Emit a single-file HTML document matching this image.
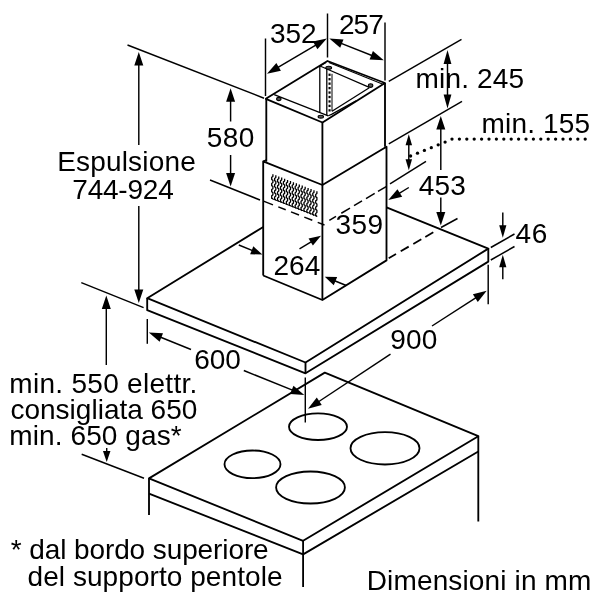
<!DOCTYPE html>
<html lang="it">
<head>
<meta charset="utf-8">
<title>Dimensioni in mm</title>
<style>
html,body{margin:0;padding:0;background:#fff;}
body{width:600px;height:600px;overflow:hidden;}
svg{display:block;will-change:transform;filter:grayscale(1);}
svg text{font-family:"Liberation Sans",Arial,Helvetica,sans-serif;fill:#000;stroke:none;}
</style>
</head>
<body>
<svg width="600" height="600" viewBox="0 0 600 600" stroke="#000" stroke-linecap="butt" stroke-linejoin="round" fill="none">
<rect x="0" y="0" width="600" height="600" fill="#fff" stroke="none"/>
<path d="M265.80 98.80 L327.50 61.00 L385.00 83.00 L322.50 122.50 Z" stroke-width="1.85" fill="none" />
<line x1="328.80" y1="62.60" x2="383.60" y2="84.60" stroke-width="1.1" />
<line x1="319.30" y1="66.60" x2="326.00" y2="62.50" stroke-width="1.1" />
<path d="M274.20 94.60 L328.30 115.80" stroke-width="1.3" fill="none" />
<path d="M320.00 66.00 L369.30 87.30" stroke-width="1.3" fill="none" />
<path d="M332.00 111.30 L369.30 87.80" stroke-width="1.3" fill="none" />
<path d="M328.30 115.80 L331.50 114.40 L356.00 100.90" stroke-width="1.2" fill="none" />
<line x1="319.80" y1="66.00" x2="319.80" y2="112.30" stroke-width="1.3" />
<line x1="326.80" y1="69.00" x2="326.80" y2="115.20" stroke-width="1.3" />
<line x1="332.00" y1="73.80" x2="332.00" y2="111.30" stroke-width="1.0" />
<rect x="328.5" y="73.60" width="2.1" height="2.3" fill="#000" stroke="none"/>
<rect x="328.5" y="78.05" width="2.1" height="2.3" fill="#000" stroke="none"/>
<rect x="328.5" y="82.50" width="2.1" height="2.3" fill="#000" stroke="none"/>
<rect x="328.5" y="86.95" width="2.1" height="2.3" fill="#000" stroke="none"/>
<rect x="328.5" y="91.40" width="2.1" height="2.3" fill="#000" stroke="none"/>
<rect x="328.5" y="95.85" width="2.1" height="2.3" fill="#000" stroke="none"/>
<rect x="328.5" y="100.30" width="2.1" height="2.3" fill="#000" stroke="none"/>
<rect x="328.5" y="104.75" width="2.1" height="2.3" fill="#000" stroke="none"/>
<rect x="328.5" y="109.20" width="2.1" height="2.3" fill="#000" stroke="none"/>
<ellipse cx="278.8" cy="99.0" rx="2.2" ry="1.6" fill="#555" stroke-width="1.1"/>
<ellipse cx="328.7" cy="67.8" rx="2.9" ry="1.5" fill="#555" stroke-width="1.1"/>
<ellipse cx="370.6" cy="85.6" rx="2.2" ry="1.8" fill="#555" stroke-width="1.1"/>
<ellipse cx="320.8" cy="116.7" rx="2.7" ry="1.4" fill="#555" stroke-width="1.1"/>
<line x1="266.30" y1="98.80" x2="266.30" y2="161.70" stroke-width="1.85" />
<line x1="322.40" y1="122.50" x2="322.40" y2="300.00" stroke-width="1.85" />
<line x1="385.00" y1="83.00" x2="385.00" y2="146.80" stroke-width="1.85" />
<path d="M263.20 275.50 L263.20 161.30 L322.40 185.00 L386.50 146.80 L386.50 260.40 L322.40 300.00 L263.20 275.50" stroke-width="1.85" fill="none" />
<line x1="263.20" y1="161.30" x2="266.30" y2="159.80" stroke-width="1.4" />
<line x1="263.50" y1="201.12" x2="273.00" y2="204.84" stroke-width="1.5" />
<line x1="278.30" y1="206.92" x2="285.70" y2="209.82" stroke-width="1.5" />
<line x1="291.00" y1="211.90" x2="299.00" y2="215.03" stroke-width="1.5" />
<line x1="304.30" y1="217.11" x2="312.30" y2="220.25" stroke-width="1.5" />
<line x1="317.70" y1="222.36" x2="324.50" y2="225.03" stroke-width="1.5" />
<line x1="329.30" y1="220.39" x2="336.00" y2="216.41" stroke-width="1.5" />
<line x1="341.30" y1="213.25" x2="350.00" y2="208.08" stroke-width="1.5" />
<line x1="354.00" y1="205.70" x2="362.00" y2="200.94" stroke-width="1.5" />
<line x1="366.00" y1="198.56" x2="374.70" y2="193.38" stroke-width="1.5" />
<line x1="378.00" y1="191.42" x2="386.60" y2="186.30" stroke-width="1.5" />
<line x1="388.70" y1="258.30" x2="396.00" y2="254.04" stroke-width="1.8" />
<line x1="400.70" y1="251.30" x2="408.70" y2="246.64" stroke-width="1.8" />
<line x1="413.30" y1="243.96" x2="421.30" y2="239.29" stroke-width="1.8" />
<line x1="425.30" y1="236.96" x2="433.30" y2="232.30" stroke-width="1.8" />
<path d="M272.90 174.20 L272.90 176.41 L271.70 177.27 L271.70 179.49 L272.90 180.35 L272.90 182.56 L271.70 183.43 L271.70 185.64 L272.90 186.50 L272.90 188.71 L271.70 189.57 L271.70 191.79 L272.90 192.65 L272.90 194.86 L271.70 195.73 L271.70 197.94 L272.90 198.80" stroke-width="1.3" fill="none" />
<path d="M275.83 175.34 L275.83 177.56 L274.63 178.42 L274.63 180.64 L275.83 181.50 L275.83 183.72 L274.63 184.58 L274.63 186.80 L275.83 187.66 L275.83 189.88 L274.63 190.74 L274.63 192.96 L275.83 193.83 L275.83 196.04 L274.63 196.91 L274.63 199.12 L275.83 199.99" stroke-width="1.3" fill="none" />
<path d="M278.77 176.48 L278.77 178.70 L277.57 179.57 L277.57 181.79 L278.77 182.65 L278.77 184.88 L277.57 185.74 L277.57 187.96 L278.77 188.83 L278.77 191.05 L277.57 191.91 L277.57 194.14 L278.77 195.00 L278.77 197.22 L277.57 198.09 L277.57 200.31 L278.77 201.17" stroke-width="1.3" fill="none" />
<path d="M281.70 177.62 L281.70 179.85 L280.50 180.71 L280.50 182.94 L281.70 183.81 L281.70 186.03 L280.50 186.90 L280.50 189.12 L281.70 189.99 L281.70 192.22 L280.50 193.08 L280.50 195.31 L281.70 196.18 L281.70 198.40 L280.50 199.27 L280.50 201.49 L281.70 202.36" stroke-width="1.3" fill="none" />
<path d="M284.63 178.76 L284.63 180.99 L283.43 181.86 L283.43 184.09 L284.63 184.96 L284.63 187.19 L283.43 188.05 L283.43 190.29 L284.63 191.15 L284.63 193.38 L283.43 194.25 L283.43 196.48 L284.63 197.35 L284.63 199.58 L283.43 200.45 L283.43 202.68 L284.63 203.55" stroke-width="1.3" fill="none" />
<path d="M287.57 179.90 L287.57 182.14 L286.37 183.00 L286.37 185.24 L287.57 186.11 L287.57 188.34 L286.37 189.21 L286.37 191.45 L287.57 192.32 L287.57 194.55 L286.37 195.42 L286.37 197.66 L287.57 198.53 L287.57 200.76 L286.37 201.63 L286.37 203.86 L287.57 204.73" stroke-width="1.3" fill="none" />
<path d="M290.50 181.04 L290.50 183.28 L289.30 184.15 L289.30 186.39 L290.50 187.26 L290.50 189.50 L289.30 190.37 L289.30 192.61 L290.50 193.48 L290.50 195.72 L289.30 196.59 L289.30 198.83 L290.50 199.70 L290.50 201.94 L289.30 202.81 L289.30 205.05 L290.50 205.92" stroke-width="1.3" fill="none" />
<path d="M293.43 182.18 L293.43 184.42 L292.23 185.30 L292.23 187.54 L293.43 188.41 L293.43 190.66 L292.23 191.53 L292.23 193.77 L293.43 194.64 L293.43 196.89 L292.23 197.76 L292.23 200.00 L293.43 200.88 L293.43 203.12 L292.23 203.99 L292.23 206.23 L293.43 207.11" stroke-width="1.3" fill="none" />
<path d="M296.37 183.32 L296.37 185.57 L295.17 186.44 L295.17 188.69 L296.37 189.56 L296.37 191.81 L295.17 192.69 L295.17 194.93 L296.37 195.81 L296.37 198.05 L295.17 198.93 L295.17 201.18 L296.37 202.05 L296.37 204.30 L295.17 205.17 L295.17 207.42 L296.37 208.29" stroke-width="1.3" fill="none" />
<path d="M299.30 184.46 L299.30 186.71 L298.10 187.59 L298.10 189.84 L299.30 190.72 L299.30 192.97 L298.10 193.84 L298.10 196.09 L299.30 196.97 L299.30 199.22 L298.10 200.10 L298.10 202.35 L299.30 203.22 L299.30 205.48 L298.10 206.35 L298.10 208.60 L299.30 209.48" stroke-width="1.3" fill="none" />
<path d="M302.23 185.60 L302.23 187.86 L301.03 188.73 L301.03 190.99 L302.23 191.87 L302.23 194.12 L301.03 195.00 L301.03 197.26 L302.23 198.13 L302.23 200.39 L301.03 201.27 L301.03 203.52 L302.23 204.40 L302.23 206.66 L301.03 207.53 L301.03 209.79 L302.23 210.67" stroke-width="1.3" fill="none" />
<path d="M305.17 186.74 L305.17 189.00 L303.97 189.88 L303.97 192.14 L305.17 193.02 L305.17 195.28 L303.97 196.16 L303.97 198.42 L305.17 199.30 L305.17 201.56 L303.97 202.44 L303.97 204.70 L305.17 205.57 L305.17 207.84 L303.97 208.71 L303.97 210.97 L305.17 211.85" stroke-width="1.3" fill="none" />
<path d="M308.10 187.88 L308.10 190.14 L306.90 191.03 L306.90 193.29 L308.10 194.17 L308.10 196.43 L306.90 197.31 L306.90 199.58 L308.10 200.46 L308.10 202.72 L306.90 203.60 L306.90 205.87 L308.10 206.75 L308.10 209.01 L306.90 209.90 L306.90 212.16 L308.10 213.04" stroke-width="1.3" fill="none" />
<path d="M311.03 189.02 L311.03 191.29 L309.83 192.17 L309.83 194.44 L311.03 195.32 L311.03 197.59 L309.83 198.47 L309.83 200.74 L311.03 201.62 L311.03 203.89 L309.83 204.77 L309.83 207.04 L311.03 207.93 L311.03 210.19 L309.83 211.08 L309.83 213.34 L311.03 214.23" stroke-width="1.3" fill="none" />
<path d="M313.97 190.16 L313.97 192.43 L312.77 193.32 L312.77 195.59 L313.97 196.47 L313.97 198.75 L312.77 199.63 L312.77 201.90 L313.97 202.79 L313.97 205.06 L312.77 205.94 L312.77 208.22 L313.97 209.10 L313.97 211.37 L312.77 212.26 L312.77 214.53 L313.97 215.41" stroke-width="1.3" fill="none" />
<path d="M316.90 191.30 L316.90 193.58 L315.70 194.46 L315.70 196.74 L316.90 197.62 L316.90 199.90 L315.70 200.79 L315.70 203.06 L316.90 203.95 L316.90 206.23 L315.70 207.11 L315.70 209.39 L316.90 210.28 L316.90 212.55 L315.70 213.44 L315.70 215.71 L316.90 216.60" stroke-width="1.3" fill="none" />
<path d="M271.30 198.40 L317.30 216.20" stroke-width="1.0" fill="none" />
<path d="M263.20 227.00 L147.20 298.20 L305.50 362.50 L488.30 248.60 L386.50 207.30" stroke-width="1.85" fill="none" />
<path d="M147.20 298.20 L147.20 310.20 L305.50 373.30 L488.30 261.60 L488.30 248.60" stroke-width="1.85" fill="none" />
<line x1="305.50" y1="362.50" x2="305.50" y2="373.30" stroke-width="1.85" />
<path d="M149.00 478.40 L324.80 372.60 L478.30 436.20 L303.10 540.80 Z" stroke-width="1.85" fill="none" />
<path d="M149.00 493.60 L303.10 554.40 L478.30 451.50" stroke-width="1.85" fill="none" />
<line x1="149.00" y1="478.40" x2="149.00" y2="515.00" stroke-width="1.85" />
<line x1="303.10" y1="540.80" x2="303.10" y2="587.00" stroke-width="1.85" />
<line x1="478.30" y1="436.20" x2="478.30" y2="521.50" stroke-width="1.85" />
<ellipse cx="318.0" cy="426.7" rx="29.0" ry="13.3" fill="none" stroke-width="1.85"/>
<ellipse cx="252.5" cy="464.3" rx="28.0" ry="13.8" fill="none" stroke-width="1.85"/>
<ellipse cx="310.5" cy="487.5" rx="34.4" ry="16.0" fill="none" stroke-width="1.85"/>
<ellipse cx="385.0" cy="448.3" rx="34.5" ry="16.2" fill="none" stroke-width="1.85"/>
<line x1="265.50" y1="38.50" x2="265.50" y2="96.00" stroke-width="1.45" />
<line x1="327.50" y1="13.50" x2="327.50" y2="57.50" stroke-width="1.45" />
<line x1="385.00" y1="22.50" x2="385.00" y2="80.50" stroke-width="1.45" />
<polygon points="267.00,73.80 276.35,63.07 280.92,70.83" fill="#000" stroke="none"/>
<line x1="276.31" y1="68.32" x2="317.49" y2="44.08" stroke-width="1.45" />
<polygon points="326.80,38.60 317.45,49.33 312.88,41.57" fill="#000" stroke="none"/>
<polygon points="329.30,38.60 343.51,39.39 340.19,47.76" fill="#000" stroke="none"/>
<line x1="339.34" y1="42.58" x2="373.76" y2="56.22" stroke-width="1.45" />
<polygon points="383.80,60.20 369.59,59.41 372.91,51.04" fill="#000" stroke="none"/>
<text x="270.10" y="42.70" font-size="28" text-anchor="start" textLength="46.47" lengthAdjust="spacing">352</text>
<text x="338.90" y="34.40" font-size="28" text-anchor="start" textLength="44.87" lengthAdjust="spacing">257</text>
<line x1="127.50" y1="45.00" x2="264.00" y2="98.20" stroke-width="1.45" />
<line x1="138.80" y1="145.00" x2="138.80" y2="62.80" stroke-width="1.45" />
<polygon points="138.80,52.00 143.30,65.50 134.30,65.50" fill="#000" stroke="none"/>
<line x1="138.80" y1="206.00" x2="138.80" y2="292.20" stroke-width="1.45" />
<polygon points="138.80,303.00 134.30,289.50 143.30,289.50" fill="#000" stroke="none"/>
<text x="57.25" y="171.30" font-size="28" text-anchor="start" textLength="138.48" lengthAdjust="spacing">Espulsione</text>
<text x="72.30" y="198.80" font-size="28" text-anchor="start" textLength="101.47" lengthAdjust="spacing">744-924</text>
<line x1="81.30" y1="282.70" x2="143.60" y2="307.60" stroke-width="1.45" />
<line x1="230.60" y1="121.50" x2="230.60" y2="99.10" stroke-width="1.45" />
<polygon points="230.60,88.30 235.10,101.80 226.10,101.80" fill="#000" stroke="none"/>
<line x1="230.60" y1="155.00" x2="230.60" y2="175.70" stroke-width="1.45" />
<polygon points="230.60,186.50 226.10,173.00 235.10,173.00" fill="#000" stroke="none"/>
<text x="206.75" y="146.70" font-size="28" text-anchor="start" textLength="47.47" lengthAdjust="spacing">580</text>
<line x1="210.00" y1="180.00" x2="260.00" y2="200.00" stroke-width="1.45" />
<line x1="388.80" y1="81.30" x2="461.50" y2="39.30" stroke-width="1.45" />
<line x1="388.80" y1="143.80" x2="462.00" y2="101.30" stroke-width="1.45" />
<line x1="390.00" y1="183.80" x2="426.00" y2="161.30" stroke-width="1.45" />
<polygon points="447.50,108.50 443.60,94.50 451.40,94.50" fill="#000" stroke="none"/>
<line x1="447.50" y1="97.30" x2="447.50" y2="61.20" stroke-width="1.45" />
<polygon points="447.50,50.00 451.40,64.00 443.60,64.00" fill="#000" stroke="none"/>
<text x="415.60" y="88.00" font-size="28" text-anchor="start" textLength="108.56" lengthAdjust="spacing">min. 245</text>
<polygon points="408.80,170.30 405.55,159.30 412.05,159.30" fill="#000" stroke="none"/>
<line x1="408.80" y1="161.50" x2="408.80" y2="143.00" stroke-width="1.45" />
<polygon points="408.80,134.20 412.05,145.20 405.55,145.20" fill="#000" stroke="none"/>
<text x="481.60" y="133.00" font-size="28" text-anchor="start" textLength="108.56" lengthAdjust="spacing">min. 155</text>
<circle cx="452.00" cy="139.10" r="1.65" fill="#000" stroke="none"/>
<circle cx="459.40" cy="139.10" r="1.65" fill="#000" stroke="none"/>
<circle cx="466.80" cy="139.10" r="1.65" fill="#000" stroke="none"/>
<circle cx="474.20" cy="139.10" r="1.65" fill="#000" stroke="none"/>
<circle cx="481.60" cy="139.10" r="1.65" fill="#000" stroke="none"/>
<circle cx="489.00" cy="139.10" r="1.65" fill="#000" stroke="none"/>
<circle cx="496.40" cy="139.10" r="1.65" fill="#000" stroke="none"/>
<circle cx="503.80" cy="139.10" r="1.65" fill="#000" stroke="none"/>
<circle cx="511.20" cy="139.10" r="1.65" fill="#000" stroke="none"/>
<circle cx="518.60" cy="139.10" r="1.65" fill="#000" stroke="none"/>
<circle cx="526.00" cy="139.10" r="1.65" fill="#000" stroke="none"/>
<circle cx="533.40" cy="139.10" r="1.65" fill="#000" stroke="none"/>
<circle cx="540.80" cy="139.10" r="1.65" fill="#000" stroke="none"/>
<circle cx="548.20" cy="139.10" r="1.65" fill="#000" stroke="none"/>
<circle cx="555.60" cy="139.10" r="1.65" fill="#000" stroke="none"/>
<circle cx="563.00" cy="139.10" r="1.65" fill="#000" stroke="none"/>
<circle cx="570.40" cy="139.10" r="1.65" fill="#000" stroke="none"/>
<circle cx="577.80" cy="139.10" r="1.65" fill="#000" stroke="none"/>
<circle cx="585.20" cy="139.10" r="1.65" fill="#000" stroke="none"/>
<circle cx="445.10" cy="142.08" r="1.65" fill="#000" stroke="none"/>
<circle cx="438.20" cy="144.86" r="1.65" fill="#000" stroke="none"/>
<circle cx="431.30" cy="147.64" r="1.65" fill="#000" stroke="none"/>
<circle cx="424.40" cy="150.42" r="1.65" fill="#000" stroke="none"/>
<circle cx="417.50" cy="153.20" r="1.65" fill="#000" stroke="none"/>
<circle cx="410.60" cy="155.98" r="1.65" fill="#000" stroke="none"/>
<line x1="440.80" y1="170.00" x2="440.80" y2="126.80" stroke-width="1.45" />
<polygon points="440.80,116.00 445.30,129.50 436.30,129.50" fill="#000" stroke="none"/>
<line x1="440.80" y1="197.50" x2="440.80" y2="214.70" stroke-width="1.45" />
<polygon points="440.80,225.50 436.30,212.00 445.30,212.00" fill="#000" stroke="none"/>
<text x="418.75" y="195.00" font-size="28" text-anchor="start" textLength="46.97" lengthAdjust="spacing">453</text>
<line x1="441.00" y1="227.50" x2="457.50" y2="218.50" stroke-width="1.45" />
<line x1="490.80" y1="247.50" x2="514.50" y2="234.00" stroke-width="1.45" />
<line x1="490.80" y1="260.00" x2="514.50" y2="246.50" stroke-width="1.45" />
<line x1="502.80" y1="212.50" x2="502.80" y2="227.80" stroke-width="1.45" />
<polygon points="502.80,237.80 499.20,225.30 506.40,225.30" fill="#000" stroke="none"/>
<line x1="502.80" y1="279.20" x2="502.80" y2="264.80" stroke-width="1.45" />
<polygon points="502.80,254.80 506.40,267.30 499.20,267.30" fill="#000" stroke="none"/>
<text x="515.50" y="242.50" font-size="28" text-anchor="start" textLength="31.91" lengthAdjust="spacing">46</text>
<line x1="408.80" y1="187.50" x2="397.52" y2="194.38" stroke-width="1.45" />
<polygon points="388.30,200.00 397.48,189.13 402.17,196.81" fill="#000" stroke="none"/>
<line x1="346.30" y1="285.50" x2="333.33" y2="280.25" stroke-width="1.45" />
<polygon points="324.80,276.80 337.15,276.94 333.77,285.29" fill="#000" stroke="none"/>
<text x="335.60" y="234.00" font-size="28" text-anchor="start" textLength="47.47" lengthAdjust="spacing">359</text>
<line x1="238.80" y1="245.00" x2="253.88" y2="251.13" stroke-width="1.45" />
<polygon points="262.40,254.60 250.15,254.20 253.35,246.33" fill="#000" stroke="none"/>
<line x1="299.50" y1="248.80" x2="312.78" y2="240.77" stroke-width="1.45" />
<polygon points="321.00,235.80 312.88,245.56 308.58,238.46" fill="#000" stroke="none"/>
<text x="273.50" y="275.00" font-size="28" text-anchor="start" textLength="46.72" lengthAdjust="spacing">264</text>
<line x1="147.30" y1="319.00" x2="147.30" y2="343.80" stroke-width="1.45" />
<line x1="191.00" y1="349.50" x2="158.82" y2="336.54" stroke-width="1.45" />
<polygon points="148.80,332.50 163.00,333.37 159.64,341.72" fill="#000" stroke="none"/>
<line x1="243.80" y1="370.50" x2="294.29" y2="390.95" stroke-width="1.45" />
<polygon points="304.30,395.00 290.10,394.10 293.48,385.76" fill="#000" stroke="none"/>
<text x="194.30" y="369.00" font-size="28" text-anchor="start" textLength="46.42" lengthAdjust="spacing">600</text>
<line x1="305.30" y1="377.50" x2="305.30" y2="422.50" stroke-width="1.45" />
<line x1="488.20" y1="264.70" x2="488.20" y2="304.20" stroke-width="1.45" />
<line x1="432.00" y1="326.00" x2="477.62" y2="296.64" stroke-width="1.45" />
<polygon points="486.70,290.80 477.78,301.89 472.91,294.32" fill="#000" stroke="none"/>
<line x1="390.50" y1="354.20" x2="317.01" y2="402.75" stroke-width="1.45" />
<polygon points="308.00,408.70 316.78,397.50 321.74,405.01" fill="#000" stroke="none"/>
<text x="390.35" y="349.00" font-size="28" text-anchor="start" textLength="46.87" lengthAdjust="spacing">900</text>
<line x1="106.30" y1="365.00" x2="106.30" y2="306.30" stroke-width="1.45" />
<polygon points="106.30,295.50 110.80,309.00 101.80,309.00" fill="#000" stroke="none"/>
<line x1="106.70" y1="448.00" x2="106.70" y2="453.20" stroke-width="1.45" />
<polygon points="106.70,462.00 102.95,451.00 110.45,451.00" fill="#000" stroke="none"/>
<line x1="81.70" y1="454.30" x2="144.00" y2="478.30" stroke-width="1.45" />
<text x="9.30" y="392.50" font-size="28" text-anchor="start" textLength="188.06" lengthAdjust="spacing">min. 550 elettr.</text>
<text x="10.45" y="419.20" font-size="28" text-anchor="start" textLength="186.91" lengthAdjust="spacing">consigliata 650</text>
<text x="9.30" y="445.00" font-size="28" text-anchor="start" textLength="172.37" lengthAdjust="spacing">min. 650 gas*</text>
<text x="10.75" y="558.75" font-size="28" text-anchor="start" textLength="257.95" lengthAdjust="spacing">* dal bordo superiore</text>
<text x="27.50" y="586.25" font-size="28" text-anchor="start" textLength="255.00" lengthAdjust="spacing">del supporto pentole</text>
<text x="366.75" y="589.60" font-size="28" text-anchor="start" textLength="224.60" lengthAdjust="spacing">Dimensioni in mm</text>
</svg>
</body>
</html>
